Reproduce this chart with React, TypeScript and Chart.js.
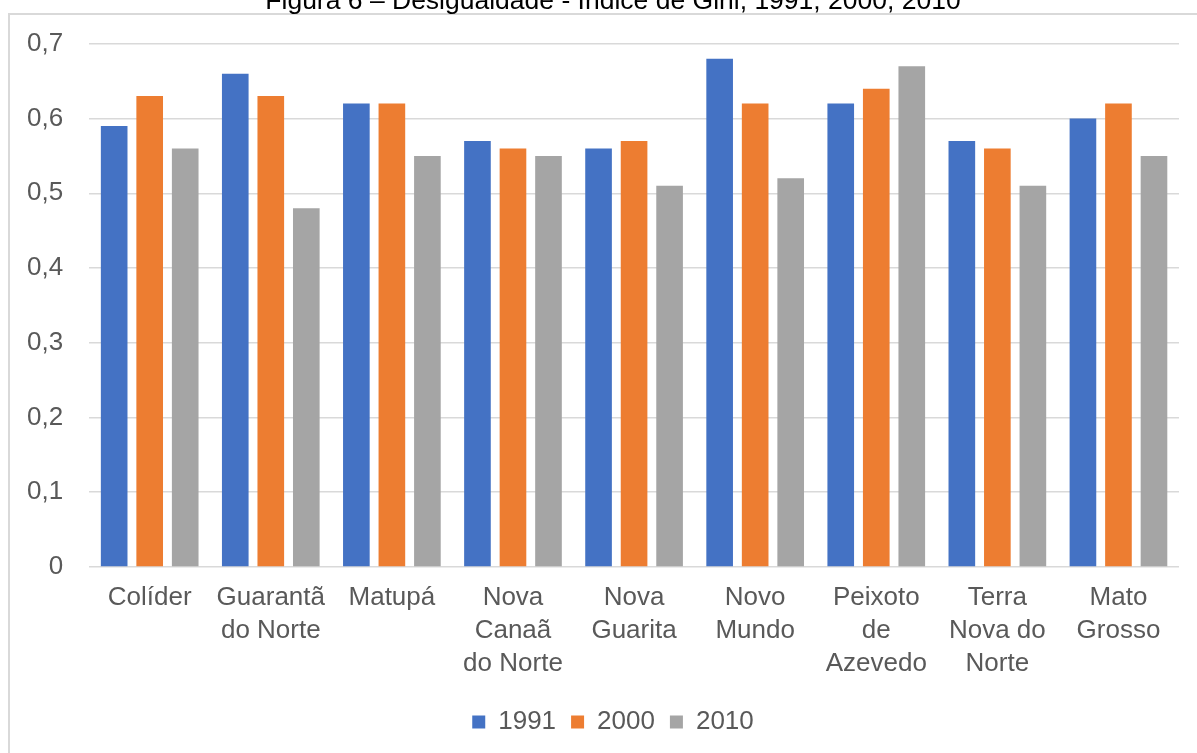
import React, { useEffect, useRef } from "react";
import { Chart, registerables } from "chart.js";

Chart.register(...registerables);

const titleText = "Figura 6 – Desigualdade - Índice de Gini, 1991, 2000, 2010";

const categories: (string | string[])[] = [
  "Colíder",
  ["Guarantã", "do Norte"],
  "Matupá",
  ["Nova", "Canaã", "do Norte"],
  ["Nova", "Guarita"],
  ["Novo", "Mundo"],
  ["Peixoto", "de", "Azevedo"],
  ["Terra", "Nova do", "Norte"],
  ["Mato", "Grosso"],
];

const seriesNames = ["1991", "2000", "2010"];
const values1991 = [0.59, 0.66, 0.62, 0.57, 0.56, 0.68, 0.62, 0.57, 0.6];
const values2000 = [0.63, 0.63, 0.62, 0.56, 0.57, 0.62, 0.64, 0.56, 0.62];
const values2010 = [0.56, 0.48, 0.55, 0.55, 0.51, 0.52, 0.67, 0.51, 0.55];
const seriesColors = ["#4472C4", "#ED7D31", "#A5A5A5"];

const yMin = 0;
const yMax = 0.7;
const yStep = 0.1;

const FONT = "'Liberation Sans', Arial, sans-serif";

export default function App() {
  const canvasRef = useRef<HTMLCanvasElement | null>(null);

  useEffect(() => {
    if (!canvasRef.current) return;
    const allValues = [values1991, values2000, values2010];
    const chart = new Chart(canvasRef.current, {
      type: "bar",
      data: {
        labels: categories,
        datasets: seriesNames.map((name, i) => ({
          label: name,
          data: allValues[i],
          backgroundColor: seriesColors[i],
          borderWidth: 0,
          categoryPercentage: 0.88,
          barPercentage: 0.75,
          yAxisID: "y",
        })),
      },
      options: {
        animation: false,
        responsive: false,
        maintainAspectRatio: false,
        layout: { padding: { left: 1, right: 1, top: 0, bottom: 0 } },
        plugins: {
          title: {
            display: true,
            text: titleText,
            color: "#000000",
            font: { family: FONT, size: 26.5, weight: "normal", lineHeight: 1.2 },
            padding: { top: 0, bottom: 26 },
          },
          legend: {
            display: true,
            position: "bottom",
            labels: {
              boxWidth: 13,
              boxHeight: 13,
              padding: 15,
              color: "#595959",
              font: { family: FONT, size: 26, lineHeight: 1.2 },
            },
          },
          tooltip: { enabled: false },
        },
        scales: {
          x: {
            grid: { display: false, drawTicks: false },
            border: { display: false },
            ticks: {
              color: "#595959",
              font: { family: FONT, size: 26, lineHeight: 1.27 },
              padding: 14,
              maxRotation: 0,
              minRotation: 0,
              autoSkip: false,
            },
            afterFit: (s: any) => {
              s.paddingLeft = 0;
              s.paddingRight = 0;
            },
          },
          y: {
            min: yMin,
            max: yMax,
            grid: { color: "#d9d9d9", lineWidth: 1.5, drawTicks: false },
            border: { display: false },
            ticks: {
              stepSize: yStep,
              color: "#595959",
              font: { family: FONT, size: 26 },
              padding: 26,
              callback: (v: any) => {
                const n = Number(v);
                if (Math.abs(n) < 1e-9) return "0";
                return n.toFixed(1).replace(".", ",");
              },
            },
          },
          yRight: {
            position: "right",
            display: true,
            min: yMin,
            max: yMax,
            grid: { display: false, drawTicks: false },
            border: { display: false },
            ticks: { display: false },
            afterFit: (s: any) => {
              s.width = 46;
            },
          },
        },
      },
    });
    return () => chart.destroy();
  }, []);

  return (
    <div
      style={{
        position: "fixed",
        left: 0,
        top: 0,
        width: 1197,
        height: 753,
        overflow: "hidden",
        background: "#ffffff",
      }}
    >
      <div
        style={{
          position: "absolute",
          left: 8,
          top: 13,
          width: 1400,
          height: 900,
          border: "2px solid #d9d9d9",
        }}
      />
      <canvas
        ref={canvasRef}
        width={1226}
        height={759}
        style={{ position: "absolute", left: 0, top: -14, width: 1226, height: 759 }}
      />
    </div>
  );
}
